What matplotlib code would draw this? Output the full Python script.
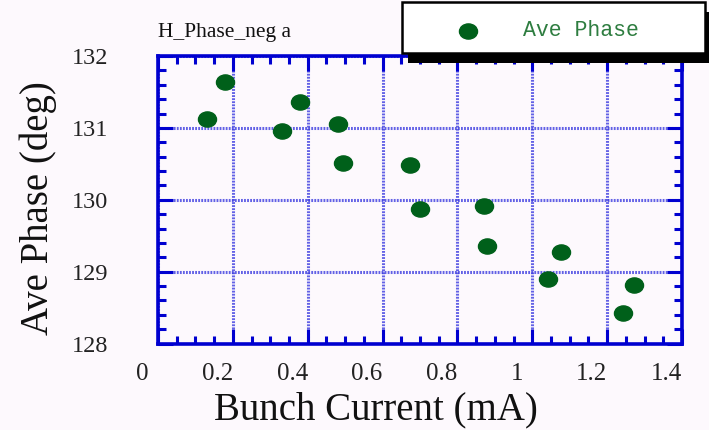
import matplotlib
matplotlib.use('Agg')
import matplotlib.pyplot as plt
from matplotlib.path import Path
from matplotlib.transforms import ScaledTranslation, Affine2D
from matplotlib.patches import Rectangle
from matplotlib.lines import Line2D
from matplotlib.ticker import MultipleLocator

# ---- data ----
current = [0.130, 0.180, 0.331, 0.380, 0.480, 0.495, 0.672, 0.701, 0.872, 0.878, 1.043, 1.078, 1.242, 1.271]
phase = [131.12, 131.64, 130.95, 131.36, 131.06, 130.51, 130.48, 129.87, 129.91, 129.36, 128.90, 129.27, 128.42, 128.81]
x_ticks = [0, 0.2, 0.4, 0.6, 0.8, 1.0, 1.2, 1.4]
x_tick_labels = ['0', '0.2', '0.4', '0.6', '0.8', '1', '1.2', '1.4']
y_ticks = [128, 129, 130, 131, 132]
y_tick_labels = ['128', '129', '130', '131', '132']
series_name = 'Ave Phase'
title = 'H_Phase_neg a'
xlabel = 'Bunch Current (mA)'
ylabel = 'Ave Phase (deg)'

# ---- style ----
W, H = 709, 430
BG = '#fdf9fd'
GREEN = '#00601a'
BLUE = '#0000d0'
GRID = '#3b3be0'
SERIF = 'Liberation Serif'

fig = plt.figure(figsize=(W / 100, H / 100), dpi=100, facecolor=BG)
ax = fig.add_axes([158 / W, 1 - 343.5 / H, 524 / W, 287.5 / H])
ax.set_facecolor(BG)

ellipse = Path.unit_circle().transformed(Affine2D().scale(1.0, 0.84))
ax.plot(current, phase, ls='none', marker=ellipse, ms=13, mfc=GREEN, mec=GREEN, zorder=5)

ax.set_xlim(0, 1.4)
ax.set_ylim(128, 132)
ax.set_xticks(x_ticks)
ax.set_xticklabels(x_tick_labels, fontfamily=SERIF, fontsize=18, color='#222222')
ax.set_yticks(y_ticks)
ax.set_yticklabels(y_tick_labels, fontfamily=SERIF, fontsize=17.5, color='#222222')
ax.xaxis.set_minor_locator(MultipleLocator(0.05))
ax.yaxis.set_minor_locator(MultipleLocator(0.2))

ax.grid(True, which='major', color=GRID, lw=2.2, ls=(0, (0.6, 0.4)), alpha=0.8)
ax.set_axisbelow(True)

for s in ax.spines.values():
    s.set_color(BLUE)
    s.set_linewidth(2.6)
ax.tick_params(which='both', direction='in', top=True, right=True, color=BLUE, width=2.2)
ax.tick_params(which='major', length=11)
ax.tick_params(which='minor', length=6)
ax.tick_params(axis='y', which='major', pad=36)
ax.tick_params(axis='x', which='major', pad=14)

off = ScaledTranslation(-0.155, 0, fig.dpi_scale_trans)
for lbl in ax.get_xticklabels():
    lbl.set_transform(lbl.get_transform() + off)

ax.set_xlabel(xlabel, fontfamily=SERIF, fontsize=28, color='#111111')
ax.xaxis.set_label_coords((376 - 158) / 524, -(410 - 343.5) / 287.5)
ax.xaxis.label.set_va('center')
ax.set_ylabel(ylabel, fontfamily=SERIF, fontsize=28, color='#111111')
ax.yaxis.set_label_coords((38 - 158) / 524, (343.5 - 208.5) / 287.5)
ax.yaxis.label.set_va('center')

fig.text(158 / W, 1 - 32 / H, title, fontfamily=SERIF, fontsize=15.5, va='center', ha='left', color='#111111')

# ---- legend box (drawn manually, with shadow) ----
bx0, by0, bx1, by1 = 402, 2, 705, 53
fig.add_artist(Rectangle(((bx0 + 6) / W, 1 - (by1 + 10) / H), (bx1 - bx0) / W, (by1 - by0) / H,
                         transform=fig.transFigure, facecolor='black', edgecolor='black', lw=0, zorder=6))
fig.add_artist(Rectangle((bx0 / W, 1 - by1 / H), (bx1 - bx0) / W, (by1 - by0) / H,
                         transform=fig.transFigure, facecolor='white', edgecolor='black', lw=1.8, zorder=7))
fig.add_artist(Line2D([468 / W], [1 - 31 / H], transform=fig.transFigure, ls='none', marker=ellipse,
                      ms=13, mfc=GREEN, mec=GREEN, zorder=8))
fig.text(523 / W, 1 - 31 / H, series_name, fontfamily='Liberation Mono', fontsize=15.5,
         color='#2e7d40', va='center', ha='left', zorder=9)

fig.savefig('out.png', dpi=100, facecolor=BG)
